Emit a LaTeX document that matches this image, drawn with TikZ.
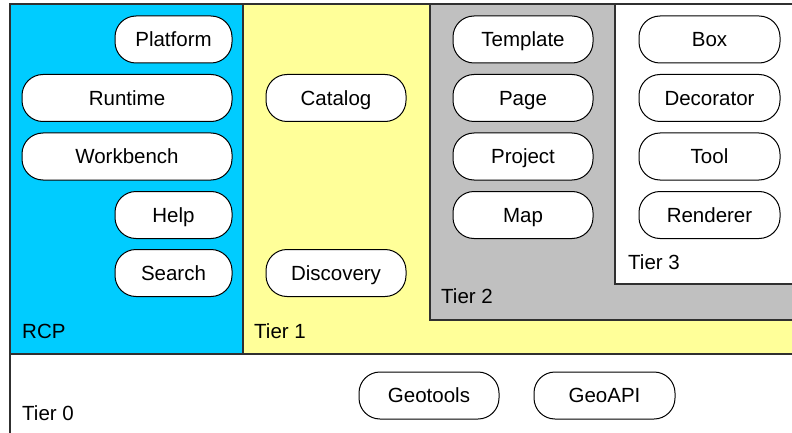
\documentclass[tikz,border=0pt]{standalone}
\usepackage{fontspec}
\setmainfont{Liberation Sans}
\definecolor{rcpblue}{HTML}{00CCFF}
\definecolor{tieryellow}{HTML}{FFFF99}
\definecolor{tiergray}{HTML}{C0C0C0}
\definecolor{edge}{HTML}{303030}
\tikzset{
  layer/.style={draw=edge, line width=1.3pt},
  pill/.style={draw=black, fill=white, line width=1pt, rounded corners=21pt,
    minimum height=47pt, inner sep=0pt, text height=14.7pt, text depth=0pt,
    font=\fontsize{20.5}{24}\selectfont},
  tierlabel/.style={anchor=base west, inner sep=0pt,
    font=\fontsize{20.5}{24}\selectfont}
}
\begin{document}
\begin{tikzpicture}[x=1pt, y=-1pt]
\useasboundingbox (0,0) rectangle (792,433);
\clip (0,0) rectangle (792,433);
\fill[white] (0,0) rectangle (792,433);

% layers, from the base upwards
\draw[layer, fill=white] (10,354) rectangle (805,445);
\draw[layer, fill=tieryellow] (243,4) rectangle (805,354);
\draw[layer, fill=rcpblue] (10,4) rectangle (243,354);
\draw[layer, fill=tiergray] (430,4) rectangle (805,320);
\draw[layer, fill=white] (615,4) rectangle (805,284);

% layer captions
\node[tierlabel] (lrcp) at (22,338) {RCP};
\node[tierlabel] (lt0) at (22,420) {Tier 0};
\node[tierlabel] (lt1) at (254,338) {Tier 1};
\node[tierlabel] (lt2) at (441,303) {Tier 2};
\node[tierlabel] (lt3) at (628,269) {Tier 3};

% RCP
\node[pill, minimum width=117pt] (platform) at (173.5,39.5) {Platform};
\node[pill, minimum width=210pt] (runtime) at (127,98) {Runtime};
\node[pill, minimum width=210pt] (workbench) at (127,156.5) {Workbench};
\node[pill, minimum width=117pt] (help) at (173.5,215) {Help};
\node[pill, minimum width=117pt] (search) at (173.5,273) {Search};

% Tier 1
\node[pill, minimum width=140pt] (catalog) at (336,98) {Catalog};
\node[pill, minimum width=140pt] (discovery) at (336,273) {Discovery};

% Tier 2
\node[pill, minimum width=140pt] (template) at (523,39.5) {Template};
\node[pill, minimum width=140pt] (page) at (523,98) {Page};
\node[pill, minimum width=140pt] (project) at (523,156.5) {Project};
\node[pill, minimum width=140pt] (map) at (523,215) {Map};

% Tier 3
\node[pill, minimum width=141pt] (box) at (709.5,39.5) {Box};
\node[pill, minimum width=141pt] (decorator) at (709.5,98) {Decorator};
\node[pill, minimum width=141pt] (tool) at (709.5,156.5) {Tool};
\node[pill, minimum width=141pt] (renderer) at (709.5,215) {Renderer};

% Tier 0
\node[pill, minimum width=140pt] (geotools) at (429,395.5) {Geotools};
\node[pill, minimum width=141pt] (geoapi) at (604.5,395.5) {GeoAPI};
\end{tikzpicture}
\end{document}
